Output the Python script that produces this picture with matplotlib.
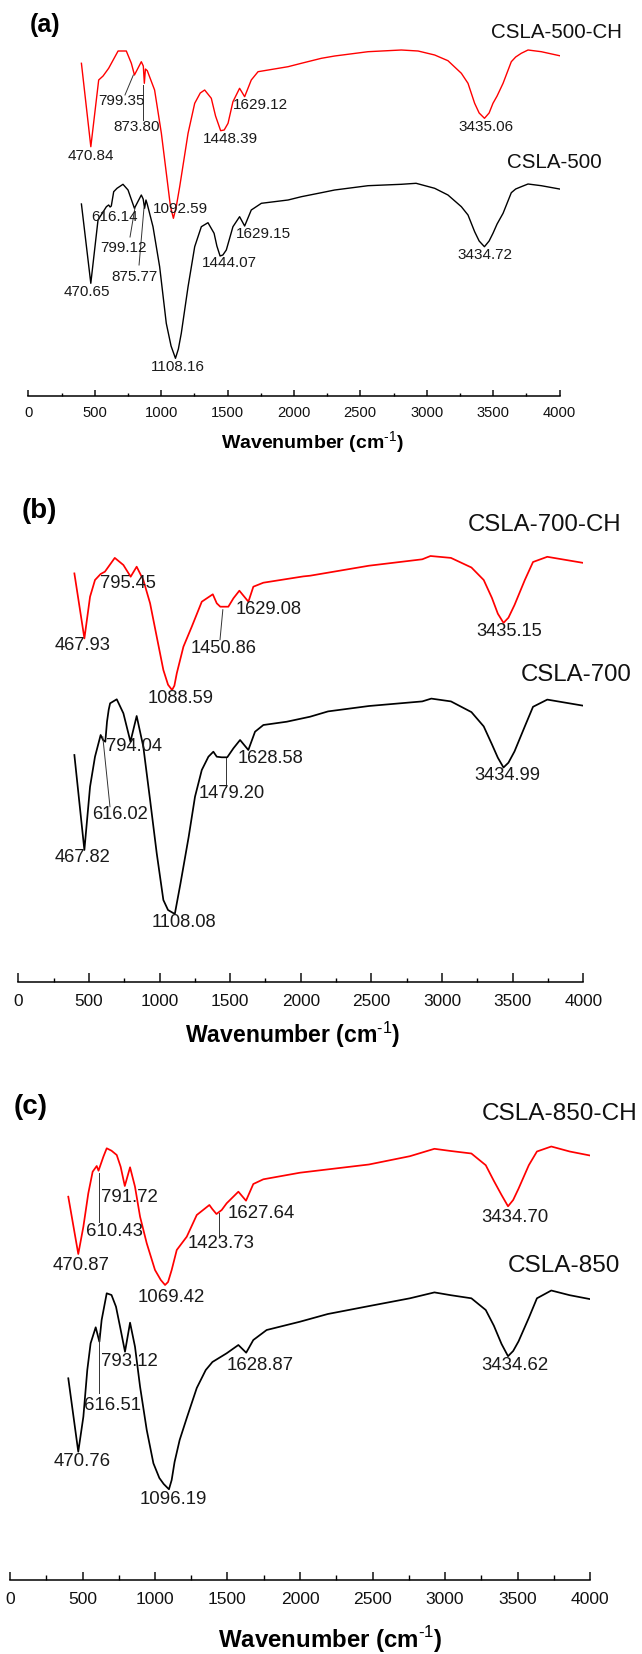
import numpy as np
import matplotlib
matplotlib.use("Agg")
import matplotlib.pyplot as plt
from matplotlib.ticker import MultipleLocator

plt.rcParams['font.family'] = ['Liberation Sans', 'DejaVu Sans']
plt.rcParams['mathtext.fontset'] = 'custom'
plt.rcParams['mathtext.rm'] = 'Liberation Sans'
plt.rcParams['mathtext.bf'] = 'Liberation Sans:bold'

W, H = 642, 1654

# ---------------- (a) CSLA-500 ----------------
a_ch_wn = [400, 470.84, 530, 563, 605, 676, 738, 776, 799.35, 851, 866, 873.80, 882, 896, 951, 1002, 1052, 1070,
           1092.59, 1115, 1140, 1203, 1253, 1295, 1328, 1378, 1410, 1448.39, 1475, 1504, 1541, 1591, 1629.12,
           1679, 1730, 1956, 2056, 2207, 2307, 2558, 2809, 2935, 3060, 3160, 3261, 3311, 3361, 3395, 3435.06,
           3470, 3499, 3530, 3575, 3637, 3670, 3712, 3763, 3863, 4000]
a_ch_t = [332.7, 249.3, 316, 320, 327.7, 345, 345, 332.7, 321, 334.3, 330, 312.7, 327, 325.3, 306, 262.7, 209.3, 190,
          177.7, 190, 209.3, 262.7, 292.7, 303, 306, 297.7, 280, 265.3, 266, 272.7, 294.3, 307.7, 299.3,
          316, 324.3, 329.3, 332.7, 337.7, 340, 344.3, 346, 345, 341, 335.3, 322.7, 312.7, 292.7, 283, 277.7,
          283, 292.7, 300, 312.7, 334.3, 339, 342.7, 346, 344.3, 340.3]
a_wn = [400, 470.65, 525, 588, 605, 616.14, 625, 643, 668, 713, 751, 799.12, 851, 865, 875.77, 886, 896, 939, 989,
        1039, 1075, 1108.16, 1130, 1152, 1203, 1253, 1303, 1353, 1399, 1420, 1444.07, 1465, 1491, 1541, 1591,
        1629.15, 1679, 1755, 1956, 2056, 2207, 2307, 2558, 2809, 2920, 3060, 3160, 3261, 3311, 3361, 3395,
        3434.72, 3470, 3499, 3530, 3575, 3637, 3670, 3712, 3763, 3863, 4000]
a_t = [192, 112.7, 176, 189.3, 191, 189, 190, 204.3, 207.7, 211.7, 206, 187.7, 201, 197, 187.7, 196, 191.7, 169.3,
       129.3, 72.7, 50, 37.7, 47, 62.7, 109.3, 149.3, 169.3, 173.3, 162.7, 150, 140, 141, 146, 169.3, 179.3,
       170, 186, 192.7, 196, 199.3, 203.3, 206, 210.3, 211.7, 212.7, 207.7, 201, 189.3, 181, 164.3, 155,
       149.3, 155, 162.7, 172, 182.7, 203.3, 207, 209.3, 212, 210.3, 207]
a_labels = [("470.84", 472, 240), ("799.35", 703, 295), ("873.80", 816, 269), ("1092.59", 1148, 187),
            ("1448.39", 1519, 257), ("1629.12", 1745, 291), ("3435.06", 3445, 269),
            ("616.14", 648, 179), ("799.12", 718, 148), ("875.77", 798, 119), ("470.65", 442, 104),
            ("1108.16", 1123, 29), ("1444.07", 1514, 133), ("1629.15", 1767, 162), ("3434.72", 3439, 141)]
a_leaders = [((791, 321), (728, 301)), ((866, 311), (866, 276)),
             ((803, 188), (766, 159)), ((871, 188), (834, 131))]

# ---------------- (b) CSLA-700 ----------------
b_ch_wn = [397, 467.93, 508, 543, 583, 613, 683, 744, 795.45, 838, 885, 933, 980, 1027, 1060, 1088.59, 1105, 1122,
           1169, 1228, 1299, 1377, 1405, 1430, 1450.86, 1487, 1523, 1565, 1629.08, 1664, 1735, 2018, 2066, 2483,
           2860, 2918, 3063, 3208, 3295, 3353, 3395, 3435.15, 3470, 3513, 3586, 3644, 3745, 4000]
b_ch_t = [408.3, 343.3, 385, 401.7, 407.7, 410, 423.8, 416.7, 405, 415, 401.7, 378.4, 345, 311.7, 297, 291.7, 296,
          308.4, 335, 355, 380, 387.4, 378.4, 375, 375, 375, 383.4, 391, 380, 395, 399, 405.3, 406, 416,
          422.4, 425.7, 423.8, 414.2, 401.7, 383.8, 368, 358.8, 364, 376.7, 401.7, 419.7, 424.9, 418.8]
b_wn = [397, 467.82, 508, 543, 583, 600, 616.02, 628, 640, 650, 697, 744, 794.04, 838, 885, 933, 980, 1027, 1060,
        1108.08, 1148, 1206, 1251, 1299, 1346, 1381, 1405, 1440, 1479.20, 1523, 1570, 1628.58, 1676, 1735,
        1901, 2066, 2193, 2483, 2860, 2924, 3063, 3208, 3295, 3353, 3395, 3434.99, 3470, 3513, 3586, 3644,
        3745, 4000]
b_t = [226.7, 131.7, 195, 225, 246.7, 241.7, 240, 260, 272, 278.4, 282.4, 268.4, 240, 265.7, 235, 181.7, 128.4, 81.7,
       71.7, 67.7, 98.1, 144.7, 185, 211.7, 225, 230, 225, 224.4, 224.4, 233.4, 241.7, 231.7, 250, 256.7,
       260, 265, 270.3, 275.7, 280.3, 283.1, 280.3, 269.6, 255.3, 237.4, 224, 214.2, 219, 230.3, 255.3, 274.9,
       282.1, 276]
b_labels = [("795.45", 777, 398), ("467.93", 455, 336), ("1088.59", 1151, 283), ("1450.86", 1455, 333),
            ("1629.08", 1771, 372), ("3435.15", 3472, 350), ("794.04", 819, 235), ("616.02", 720, 167),
            ("467.82", 455, 124), ("1479.20", 1508, 188), ("1628.58", 1786, 223), ("1108.08", 1176, 59),
            ("3434.99", 3462, 206)]
b_leaders = [((1448, 372), (1428, 342)), ((598, 245), (649, 175)), ((1471, 224), (1471, 195))]

# ---------------- (c) CSLA-850 ----------------
c_ch_wn = [402, 470.87, 506, 540, 570, 598, 610.43, 644, 667, 700, 736, 763, 791.72, 828, 862, 897, 943, 1000, 1040,
           1069.42, 1090, 1115, 1150, 1219, 1288, 1375, 1395, 1423.73, 1460, 1494, 1575, 1627.64, 1678, 1747, 2000,
           2475, 2758, 2927, 3040, 3182, 3281, 3337, 3390, 3434.70, 3470, 3507, 3578, 3634, 3733, 3860, 4000]
c_ch_t = [383.3, 326, 353.3, 386.7, 408.3, 414, 409.3, 423.3, 431.7, 429.3, 425, 413.3, 394, 412.7, 393.3, 363.3,
          336.7, 310, 300, 295, 298, 310, 330, 343.3, 365, 375, 371, 366, 370, 376.7, 388.3, 379.3, 396, 400.7,
          407.3, 415.5, 423.8, 431.2, 429, 426.5, 414.8, 399.1, 385, 373.7, 380, 391.3, 414.8, 428.5, 433.5,
          428.5, 424.5]
c_wn = [402, 470.76, 506, 533, 556, 591, 616.51, 632, 667, 700, 731, 759, 793.12, 828, 862, 897, 943, 989, 1030,
        1060, 1096.19, 1115, 1135, 1170, 1219, 1288, 1350, 1379, 1396, 1494, 1575, 1628.87, 1678, 1770, 2000,
        2192, 2475, 2758, 2927, 3040, 3182, 3281, 3337, 3390, 3434.62, 3470, 3507, 3578, 3634, 3733, 3860, 4000]
c_t = [201.7, 128.3, 163.3, 210, 236.7, 252.7, 238.3, 260, 286.7, 285, 273.3, 253.3, 228.3, 257.3, 233.3, 193.3,
       150, 116.7, 102, 96, 90.7, 100, 118, 140, 162, 192, 210, 215, 218, 226.7, 235, 227.3, 240, 250, 258.3,
       266, 273.9, 281.7, 287.6, 284.8, 281.7, 270, 254.3, 236, 223.8, 229, 238.6, 262.1, 281.7, 289.5, 284.8,
       280.9]
c_labels = [("791.72", 826, 382), ("610.43", 719, 348), ("470.87", 488, 315), ("1069.42", 1110, 282),
            ("1423.73", 1457, 336), ("1627.64", 1731, 367), ("3434.70", 3480, 363), ("793.12", 826, 218),
            ("616.51", 710, 175), ("470.76", 498, 118), ("1628.87", 1724, 214), ("1096.19", 1126, 80),
            ("3434.62", 3480, 214)]
c_leaders = [((614, 407), (614, 358)), ((1441, 367), (1441, 344)), ((614, 247), (614, 187))]

ticks = np.arange(0, 4001, 500)

panels = [
    # tag, sample names, spectra, peak labels, leader lines, axes box (left, right, top, axis line) in px
    dict(tag="(a)", tag_xy=(126, 371), names=[("CSLA-500-CH", 3978, 364), ("CSLA-500", 3962, 233)],
         ch=(a_ch_wn, a_ch_t), base=(a_wn, a_t), labels=a_labels, leaders=a_leaders,
         box=(28.3, 559.5, 0, 396), xlab_xy=(2136, -47), tick_fs=10.6, lab_fs=11, name_fs=14.8,
         tag_fs=18, xlab_fs=14, lw=1.0, major=4.3, minor=2.4, pad=7.3),
    dict(tag="(b)", tag_xy=(146, 471), names=[("CSLA-700-CH", 3723, 457), ("CSLA-700", 3948, 307)],
         ch=(b_ch_wn, b_ch_t), base=(b_wn, b_t), labels=b_labels, leaders=b_leaders,
         box=(18.3, 583.3, 465, 981.7), xlab_xy=(1942, -53), tick_fs=12.4, lab_fs=13.2, name_fs=17.3,
         tag_fs=20, xlab_fs=16.6, lw=1.25, major=6.5, minor=3.1, pad=8.6),
    dict(tag="(c)", tag_xy=(141, 473), names=[("CSLA-850-CH", 3790, 466), ("CSLA-850", 3822, 314)],
         ch=(c_ch_wn, c_ch_t), base=(c_wn, c_t), labels=c_labels, leaders=c_leaders,
         box=(10, 590, 1070, 1580), xlab_xy=(2210, -60), tick_fs=12.6, lab_fs=13.4, name_fs=17.6,
         tag_fs=20, xlab_fs=17.3, lw=1.25, major=6.0, minor=3.6, pad=8.5),
]

fig = plt.figure(figsize=(W / 100, H / 100), dpi=100)

for p in panels:
    left, right, top, axis_y = p["box"]
    ax = fig.add_axes([left / W, 1 - axis_y / H, (right - left) / W, (axis_y - top) / H])
    ax.set_xlim(0, 4000)
    ax.set_ylim(0, axis_y - top)
    ax.patch.set_alpha(0)

    ax.plot(p["ch"][0], p["ch"][1], color='#ff0000', lw=p["lw"], solid_joinstyle='round')
    ax.plot(p["base"][0], p["base"][1], color='#000000', lw=p["lw"], solid_joinstyle='round')

    for txt, x, y in p["labels"]:
        ax.text(x, y, txt, fontsize=p["lab_fs"], ha='center', va='center', color='#1a1a1a')
    for (x1, y1), (x2, y2) in p["leaders"]:
        ax.plot([x1, x2], [y1, y2], color='#333333', lw=0.7)
    for txt, x, y in p["names"]:
        ax.text(x, y, txt, fontsize=p["name_fs"], ha='center', va='center', color='#111111', clip_on=False)
    ax.text(p["tag_xy"][0], p["tag_xy"][1], p["tag"], fontsize=p["tag_fs"], fontweight='bold',
            ha='center', va='center', clip_on=False)
    ax.text(p["xlab_xy"][0], p["xlab_xy"][1], r'Wavenumber (cm$^{\text{-1}}$)', fontsize=p["xlab_fs"],
            fontweight='bold', ha='center', va='center', clip_on=False)

    for s in ['left', 'right', 'top']:
        ax.spines[s].set_visible(False)
    ax.spines['bottom'].set_linewidth(1.1)
    ax.set_yticks([])
    ax.set_xticks(ticks)
    ax.set_xticklabels([str(t) for t in ticks])
    ax.xaxis.set_minor_locator(MultipleLocator(250))
    ax.tick_params(axis='x', which='major', direction='in', length=p["major"], width=1.1,
                   labelsize=p["tick_fs"], pad=p["pad"], colors='#111111')
    ax.tick_params(axis='x', which='minor', direction='in', length=p["minor"], width=1.0)

fig.savefig("out.png", dpi=100)
